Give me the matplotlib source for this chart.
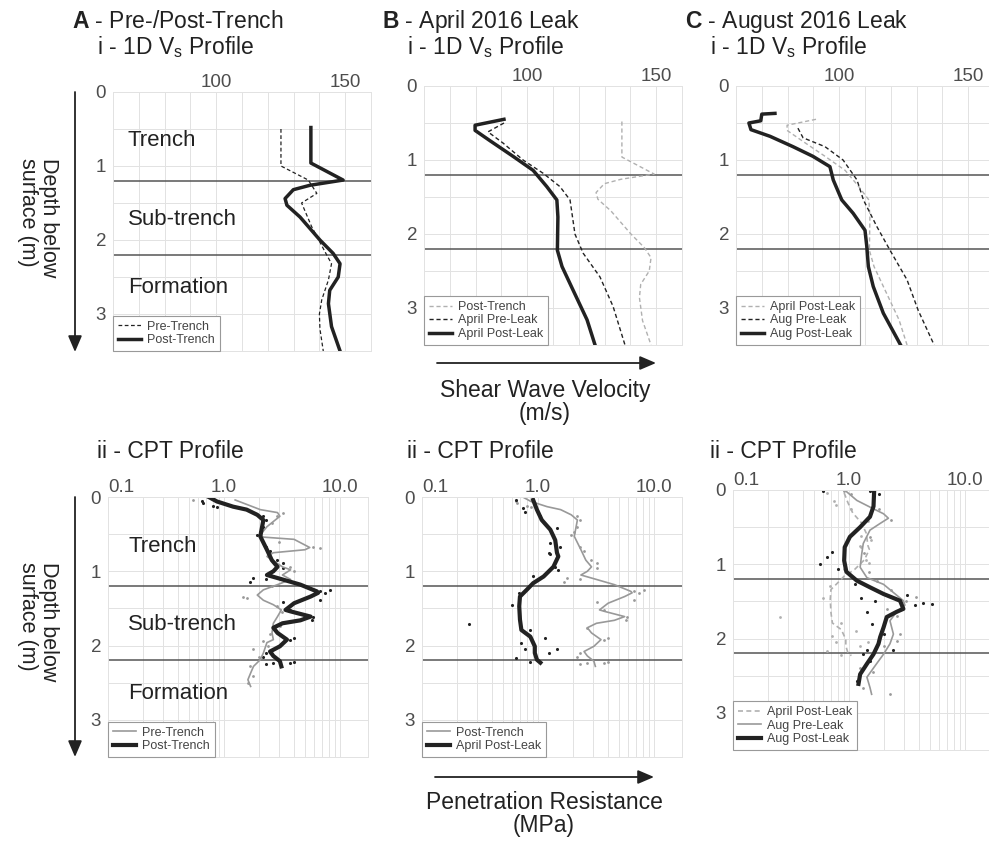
import matplotlib
matplotlib.use('Agg')
import matplotlib.pyplot as plt
import numpy as np

plt.rcParams['font.family'] = ['Liberation Sans', 'DejaVu Sans']
plt.rcParams['mathtext.fontset'] = 'custom'
plt.rcParams['mathtext.rm'] = 'Liberation Sans'
plt.rcParams['mathtext.bf'] = 'Liberation Sans:bold'

# ---------------- data ----------------
layer_bounds = [1.2, 2.2]

# 1D Vs profiles (m/s) vs depth (m)
vs_pre_trench_depth = [0.5, 1.0, 1.19, 1.37, 1.5, 1.82, 2.2, 2.32, 2.54, 2.81, 3.0, 3.2, 3.5]
vs_pre_trench = [125.1, 125.1, 135.7, 139.0, 133.1, 137.0, 142.8, 144.7, 143.5, 140.9, 140.0, 140.2, 141.5]

vs_post_trench_depth = [0.48, 0.96, 1.19, 1.26, 1.32, 1.44, 1.53, 1.69, 2.0, 2.18, 2.32, 2.5, 2.68, 2.86, 3.17, 3.5]
vs_post_trench = [136.7, 136.7, 149.2, 136.4, 129.9, 126.7, 127.4, 132.5, 140.2, 145.3, 148.0, 147.3, 144.0, 143.5, 144.7, 148.0]

vs_apr_pre_depth = [0.5, 0.62, 0.77, 1.0, 1.18, 1.36, 1.54, 1.9, 2.0, 2.26, 2.58, 2.98, 3.5]
vs_apr_pre = [91.0, 84.8, 90.6, 98.4, 106.2, 112.7, 116.6, 118.1, 118.5, 121.7, 128.2, 133.3, 137.9]

vs_apr_post_depth = [0.45, 0.53, 0.6, 0.74, 0.95, 1.14, 1.36, 1.54, 1.77, 2.22, 2.44, 2.76, 3.16, 3.5]
vs_apr_post = [91.0, 79.8, 79.8, 85.6, 94.5, 102.3, 107.6, 111.5, 111.9, 111.7, 113.5, 117.8, 123.2, 126.3]

vs_aug_pre_depth = [0.57, 0.7, 0.82, 1.0, 1.27, 1.54, 1.9, 2.22, 2.62, 3.03, 3.5]
vs_aug_pre = [84.0, 86.0, 94.5, 101.5, 106.9, 109.4, 114.6, 119.7, 126.3, 130.6, 136.8]

vs_aug_post_depth = [0.37, 0.38, 0.47, 0.5, 0.59, 0.68, 0.82, 0.95, 1.09, 1.27, 1.54, 1.72, 1.95, 2.17, 2.44, 2.71, 3.07, 3.5]
vs_aug_post = [75.1, 70.0, 69.6, 65.0, 65.8, 73.2, 82.1, 89.8, 96.4, 97.7, 101.0, 105.4, 110.0, 110.7, 111.3, 113.2, 117.1, 123.8]

# CPT profiles (MPa) vs depth (m), smoothed lines
cpt_pre_trench_depth = [0.04, 0.17, 0.21, 0.26, 0.33, 0.40, 0.51, 0.54, 0.57, 0.68, 0.71, 0.75, 0.80, 0.86, 0.94,
                        0.98, 1.05, 1.11, 1.18, 1.25, 1.32, 1.39, 1.45, 1.52, 1.61, 1.70, 1.83, 1.92, 1.96, 2.10,
                        2.19, 2.28, 2.37, 2.46, 2.55]
cpt_pre_trench = [1.25, 2.06, 2.9, 3.04, 2.67, 2.35, 2.06, 2.19, 4.03, 5.5, 5.0, 2.67, 2.35, 2.67, 3.2,
                  3.76, 3.2, 3.76, 2.9, 2.19, 1.94, 2.19, 2.67, 3.13, 2.9, 2.67, 2.6, 2.67, 2.35, 2.19,
                  2.06, 1.8, 1.7, 1.61, 1.7]

cpt_post_trench_depth = [0.0, 0.06, 0.13, 0.17, 0.24, 0.31, 0.53, 0.71, 0.85, 0.94, 1.0, 1.05, 1.11, 1.18, 1.27,
                         1.29, 1.34, 1.43, 1.52, 1.54, 1.61, 1.66, 1.70, 1.76, 1.83, 1.92, 2.01, 2.08, 2.14, 2.21, 2.28]
cpt_post_trench = [0.74, 0.87, 1.2, 1.57, 1.94, 2.19, 2.06, 2.35, 2.59, 2.9, 2.67, 2.35, 3.2, 4.57, 6.33,
                   6.5, 5.6, 4.03, 3.4, 3.76, 5.6, 4.57, 3.2, 2.67, 2.9, 3.5, 3.04, 2.5, 2.67, 3.04, 3.13]

cpt_apr_post_depth = [0.04, 0.17, 0.31, 0.44, 0.58, 0.75, 0.80, 0.94, 1.07, 1.16, 1.25, 1.34, 1.47, 1.65, 1.79,
                      1.88, 2.01, 2.10, 2.19, 2.23]
cpt_apr_post = [0.91, 0.98, 1.08, 1.28, 1.41, 1.46, 1.5, 1.36, 1.12, 0.91, 0.80, 0.70, 0.69, 0.70, 0.72,
                0.86, 0.94, 0.94, 0.98, 1.05]

cpt_aug_pre_depth = [0.02, 0.14, 0.23, 0.32, 0.38, 0.45, 0.54, 0.72, 0.86, 1.04, 1.18, 1.27, 1.38, 1.49, 1.55,
                     1.64, 1.76, 1.94, 2.07, 2.21, 2.34, 2.52, 2.66, 2.75]
cpt_aug_pre = [0.95, 1.17, 1.52, 1.99, 2.19, 1.86, 1.52, 1.33, 1.29, 1.25, 1.43, 1.99, 2.42, 2.95, 3.04,
               2.58, 2.26, 2.42, 2.26, 1.99, 1.73, 1.43, 1.52, 1.57]

cpt_aug_post_depth = [0.02, 0.22, 0.36, 0.50, 0.63, 0.77, 0.95, 1.10, 1.22, 1.31, 1.40, 1.49, 1.60, 1.64, 1.71,
                      1.85, 1.98, 2.07, 2.21, 2.34, 2.48, 2.61]
cpt_aug_post = [1.65, 1.63, 1.52, 1.25, 1.02, 0.92, 0.91, 0.95, 1.17, 1.52, 1.99, 2.76, 2.95, 2.58, 2.12,
                1.99, 1.86, 1.80, 1.63, 1.43, 1.25, 1.21]

# CPT raw readings (scatter)
pts_pre_trench_depth = [0.04, 0.26, 0.21, 0.51, 0.69, 0.67, 0.94, 1.0, 1.34, 1.36, 1.47, 1.74, 1.94, 2.05, 2.28,
                        2.41, 0.35, 0.6, 0.8, 1.12, 1.2, 1.55, 1.85, 2.0, 2.15, 2.5]
pts_pre_trench = [0.545, 2.85, 3.26, 2.05, 6.74, 5.9, 3.72, 4.03, 1.47, 1.57, 2.85, 3.04, 2.19, 1.79, 1.68,
                  1.79, 2.6, 3.0, 2.4, 3.4, 2.6, 3.2, 2.5, 2.4, 2.0, 1.6]

pts_post_trench_depth = [0.06, 0.08, 0.12, 0.13, 0.26, 0.31, 0.40, 0.47, 0.51, 0.67, 0.73, 0.85, 0.89, 0.96, 1.09,
                         1.14, 1.11, 1.27, 1.25, 1.29, 1.38, 1.42, 1.52, 1.61, 1.65, 1.76, 1.90, 1.92, 2.10, 2.15,
                         2.23, 2.23, 2.22, 2.25]
pts_post_trench = [0.643, 0.663, 0.81, 0.87, 2.19, 2.33, 2.19, 2.05, 1.92, 2.33, 2.5, 2.85, 3.26, 3.26, 1.79,
                   1.68, 2.33, 6.74, 8.2, 7.44, 6.74, 3.26, 3.72, 5.9, 5.7, 2.67, 4.03, 3.72, 2.33, 2.19,
                   2.67, 3.72, 4.03, 2.33]

pts_apr_post_depth = [0.04, 0.15, 0.2, 0.26, 0.42, 0.62, 0.67, 0.75, 0.77, 0.94, 0.98, 1.06, 1.29, 1.45, 1.71,
                      1.79, 1.90, 1.97, 2.05, 2.05, 2.10, 2.17, 2.22]
pts_apr_post = [0.653, 0.75, 0.77, 1.05, 1.46, 1.28, 1.55, 1.24, 1.28, 1.41, 1.5, 0.91, 0.682, 0.594, 0.255,
                0.86, 1.15, 0.72, 0.77, 1.46, 1.24, 0.653, 0.86]

pts_aug_pre_depth = [0.02, 0.06, 0.41, 0.63, 0.85, 1.22, 1.44, 1.5, 1.6, 1.94, 2.03, 2.39, 2.75, 2.66, 0.25,
                     1.1, 1.35, 1.7, 2.1, 2.45]
pts_aug_pre = [0.91, 1.05, 2.3, 1.52, 1.35, 1.73, 3.8, 3.13, 2.12, 2.76, 2.58, 1.25, 2.26, 1.33, 1.8,
               1.5, 2.3, 2.6, 2.0, 1.6]

pts_aug_post_depth = [0.01, 0.02, 0.05, 0.32, 0.83, 0.9, 0.99, 1.07, 1.26, 1.46, 1.50, 1.42, 1.55, 1.52, 1.53,
                      1.64, 1.8, 1.94, 2.16, 2.16, 2.21, 2.3, 2.57]
pts_aug_post = [0.6, 1.52, 1.83, 1.52, 0.71, 0.643, 0.565, 0.81, 1.13, 1.28, 1.68, 3.15, 3.72, 4.39, 5.17,
                1.43, 1.57, 1.99, 2.42, 1.43, 1.33, 1.52, 1.17]

# ---------------- figure ----------------
W, H = 989, 843
fig = plt.figure(figsize=(W / 100, H / 100), dpi=100)

INK = '#222222'
GRID = '#e2e2e2'
LGRAY = '#b0b0b0'
MGRAY = '#999999'


def box(l, t, r, b):
    return fig.add_axes([l / W, 1 - b / H, (r - l) / W, (b - t) / H])


def style(ax, log=False):
    ax.set_ylim(3.5, 0)
    ax.set_yticks([0, 1, 2, 3])
    ax.set_yticks([0.5, 1.5, 2.5, 3.5], minor=True)
    if log:
        ax.set_xscale('log')
        ax.set_xlim(0.1, 17.5)
        ax.set_xticks([0.1, 1, 10])
        ax.set_xticklabels(['0.1', '1.0', '10.0'])
        minors = [m * 10.0 ** e for e in (-1, 0, 1) for m in range(2, 10)]
        ax.set_xticks([v for v in minors if v < 17.5], minor=True)
        ax.xaxis.set_minor_formatter(plt.NullFormatter())
    else:
        ax.set_xlim(60, 160)
        ax.set_xticks([100, 150])
        ax.set_xticks(np.arange(60, 161, 10), minor=True)
    ax.xaxis.tick_top()
    ax.tick_params(which='both', length=0, labelsize=13.5, labelcolor='#4d4d4d')
    ax.tick_params(axis='x', pad=1)
    ax.tick_params(axis='y', pad=5)
    if log:
        ax.get_xticklabels()[0].set_ha('left')
    ax.grid(True, which='both', color=GRID, lw=0.7)
    ax.set_axisbelow(True)
    for s in ax.spines.values():
        s.set_color(GRID)
        s.set_linewidth(0.7)
    for d in layer_bounds:
        ax.axhline(d, color='#555555', lw=1.1, zorder=1)


def legend(ax):
    leg = ax.legend(loc='lower left', bbox_to_anchor=(0, 0), borderaxespad=0, fontsize=9,
                    frameon=True, fancybox=False, edgecolor=MGRAY, framealpha=1,
                    handlelength=1.8, handletextpad=0.5, labelspacing=0.12, borderpad=0.4)
    leg.get_frame().set_linewidth(0.8)
    for t in leg.get_texts():
        t.set_color('#444444')


def layers(ax, x):
    ax.text(x, 0.66, 'Trench', fontsize=16, va='center', color=INK)
    ax.text(x, 1.72, 'Sub-trench', fontsize=16, va='center', color=INK)
    ax.text(x, 2.64, 'Formation', fontsize=16, va='center', color=INK)


dash = (0, (3, 2))

# top row: Vs
axA = box(113, 92, 371, 351)
style(axA)
axA.plot(vs_pre_trench, vs_pre_trench_depth, color=INK, lw=0.9, ls=dash, label='Pre-Trench')
axA.plot(vs_post_trench, vs_post_trench_depth, color=INK, lw=2.5, label='Post-Trench')
layers(axA, 65.8)
legend(axA)

axB = box(424, 86, 682, 345)
style(axB)
axB.plot(vs_post_trench, vs_post_trench_depth, color=LGRAY, lw=1.0, ls=dash, label='Post-Trench')
axB.plot(vs_apr_pre, vs_apr_pre_depth, color=INK, lw=1.0, ls=dash, label='April Pre-Leak')
axB.plot(vs_apr_post, vs_apr_post_depth, color=INK, lw=2.5, label='April Post-Leak')
legend(axB)

axC = box(736, 86, 994, 345)
style(axC)
axC.plot(vs_apr_post, vs_apr_post_depth, color=LGRAY, lw=1.0, ls=dash, label='April Post-Leak')
axC.plot(vs_aug_pre, vs_aug_pre_depth, color=INK, lw=1.0, ls=dash, label='Aug Pre-Leak')
axC.plot(vs_aug_post, vs_aug_post_depth, color=INK, lw=2.5, label='Aug Post-Leak')
legend(axC)

# bottom row: CPT
bA = box(108, 497, 368, 757)
style(bA, log=True)
bA.scatter(pts_pre_trench, pts_pre_trench_depth, s=4, color=MGRAY, lw=0)
bA.scatter(pts_post_trench, pts_post_trench_depth, s=5, color=INK, lw=0)
bA.plot(cpt_pre_trench, cpt_pre_trench_depth, color=MGRAY, lw=1.2, label='Pre-Trench')
bA.plot(cpt_post_trench, cpt_post_trench_depth, color=INK, lw=3.0, label='Post-Trench')
layers(bA, 0.149)
legend(bA)

bB = box(422, 497, 682, 757)
style(bB, log=True)
bB.scatter(pts_post_trench, pts_post_trench_depth, s=4, color=MGRAY, lw=0)
bB.scatter(pts_apr_post, pts_apr_post_depth, s=5, color=INK, lw=0)
bB.plot(cpt_post_trench, cpt_post_trench_depth, color=MGRAY, lw=1.2, label='Post-Trench')
bB.plot(cpt_apr_post, cpt_apr_post_depth, color=INK, lw=3.0, label='April Post-Leak')
legend(bB)

bC = box(733, 490, 993, 750)
style(bC, log=True)
bC.scatter(pts_apr_post, pts_apr_post_depth, s=4, color=LGRAY, lw=0)
bC.scatter(pts_aug_pre, pts_aug_pre_depth, s=4, color=MGRAY, lw=0)
bC.scatter(pts_aug_post, pts_aug_post_depth, s=5, color=INK, lw=0)
bC.plot(cpt_apr_post, cpt_apr_post_depth, color=LGRAY, lw=1.2, ls=dash, label='April Post-Leak')
bC.plot(cpt_aug_pre, cpt_aug_pre_depth, color=MGRAY, lw=1.2, label='Aug Pre-Leak')
bC.plot(cpt_aug_post, cpt_aug_post_depth, color=INK, lw=3.0, label='Aug Post-Leak')
legend(bC)

# overlay for titles, arrows and axis captions (pixel coordinates)
ov = fig.add_axes([0, 0, 1, 1], facecolor='none')
ov.set_xlim(0, W)
ov.set_ylim(H, 0)
ov.axis('off')

titles = [
    (72, r'$\mathbf{A}$ - Pre-/Post-Trench'),
    (382, r'$\mathbf{B}$ - April 2016 Leak'),
    (685, r'$\mathbf{C}$ - August 2016 Leak'),
]
for x, t in titles:
    ov.text(x, 28, t, fontsize=16.5, va='baseline', color=INK)
    ov.text(x + 25, 54, r'i - 1D V$_\mathrm{s}$ Profile', fontsize=16.5, va='baseline', color=INK)
for x in (97, 407, 710):
    ov.text(x, 458, 'ii - CPT Profile', fontsize=16.5, va='baseline', color=INK)

arrow = dict(arrowstyle='-|>,head_length=0.7,head_width=0.3', color=INK, lw=1.3,
             shrinkA=0, shrinkB=0, mutation_scale=14)
ov.annotate('', xy=(75, 352), xytext=(75, 92), arrowprops=arrow)
ov.annotate('', xy=(75, 757), xytext=(75, 497), arrowprops=arrow)
ov.annotate('', xy=(656, 363), xytext=(437, 363), arrowprops=arrow)
ov.annotate('', xy=(654, 777), xytext=(435, 777), arrowprops=arrow)

for y in (158, 562):
    ov.text(38, y, 'Depth below\nsurface (m)', rotation=270, fontsize=15.5, ha='center', va='top',
            multialignment='left', linespacing=0.95, color=INK)

ov.text(545, 379, 'Shear Wave Velocity\n(m/s)', fontsize=16.5, ha='center', va='top', linespacing=1.0, color=INK)
ov.text(544, 791, 'Penetration Resistance\n(MPa)', fontsize=16.5, ha='center', va='top', linespacing=1.0, color=INK)

fig.savefig('out.png', dpi=100)
